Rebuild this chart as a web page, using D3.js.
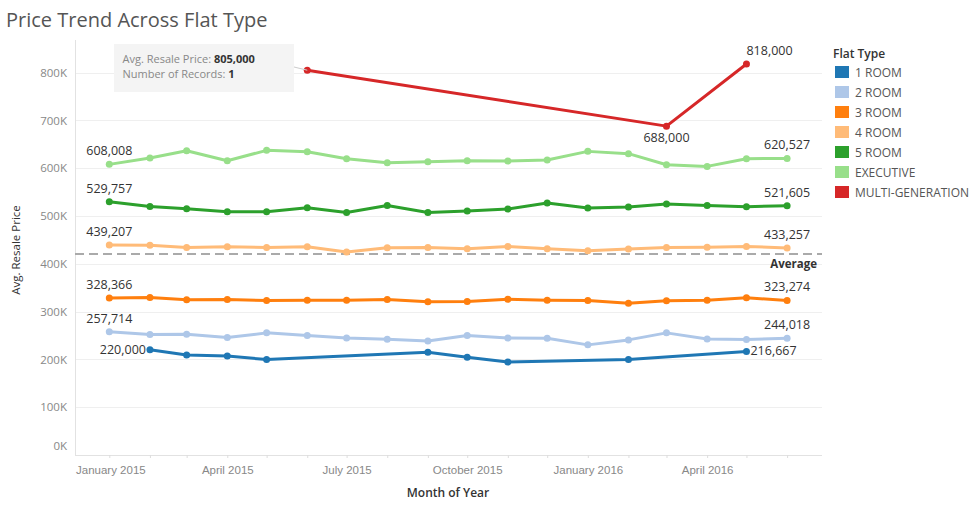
<!DOCTYPE html>
<html>
<head>
<meta charset="utf-8">
<script src="https://cdn.jsdelivr.net/npm/d3@7"></script>
<style>
  html, body { margin: 0; padding: 0; background: #fff; }
  svg { display: block; font-family: "Open Sans", "Noto Sans", sans-serif; }
</style>
</head>
<body>
<svg id="chart" width="973" height="510"></svg>
<script>
// ---------------- data ----------------
const months = ["2015-01","2015-02","2015-03","2015-04","2015-05","2015-06","2015-07","2015-08","2015-09",
                "2015-10","2015-11","2015-12","2016-01","2016-02","2016-03","2016-04","2016-05","2016-06"];
const flatTypes = ["1 ROOM","2 ROOM","3 ROOM","4 ROOM","5 ROOM","EXECUTIVE","MULTI-GENERATION"];
const oneRoom   = [null,220000,209400,207300,199600,null,null,null,215100,204600,194800,null,null,199600,null,null,216667,null];
const twoRoom   = [257714,251900,252600,245600,255500,249900,245000,242300,238700,249900,245000,244300,230400,240800,255500,242900,241500,244018];
const threeRoom = [328366,329400,324600,325300,323200,323900,323900,325300,320400,321000,326000,323900,323200,317700,322500,323900,328800,323274];
const fourRoom  = [439207,439000,434100,435600,434100,435600,424500,433500,434100,431400,436200,431400,427200,430800,434100,434800,436200,433257];
const fiveRoom  = [529757,520000,515200,508900,508900,517300,507500,522100,507500,510300,514500,527100,516600,518700,525000,522100,519400,521605];
const executive = [608008,621400,636600,615700,637300,634600,619900,611500,613600,615700,615100,617200,635200,630400,607300,603800,619900,620527];
const multiGen  = [null,null,null,null,null,805000,null,null,null,null,null,null,null,null,688000,null,818000,null];
const averageValue = 420300;
const yTicks = [0,100000,200000,300000,400000,500000,600000,700000,800000];
const xTickMonths = ["2015-01","2015-04","2015-07","2015-10","2016-01","2016-04"];
const tooltipValue = 805000;
const tooltipRecords = 1;

// ---------------- styles ----------------
const colors = ["#1f77b4","#aec7e8","#ff7f0e","#ffbb78","#2ca02c","#98df8a","#d62728"];
const seriesValues = [oneRoom, twoRoom, threeRoom, fourRoom, fiveRoom, executive, multiGen];
// label placement style per series: which end points are labelled and how
const labelStyle = [
  {first:"left", last:"right"},
  {first:"above", last:"above"},
  {first:"above", last:"above"},
  {first:"above", last:"above"},
  {first:"above", last:"above"},
  {first:"above", last:"above"},
  {skipFirst:true, labelIdx:[[14,"below"],[16,"aboveStart"]]}
];

const svg = d3.select("#chart");
const parse = d3.timeParse("%Y-%m");
const dates = months.map(parse);

const plot = {left:75, right:822, top:40, bottom:455};
const x = d3.scaleTime().domain([dates[0], dates[dates.length-1]]).range([109.3, 787.1]);
const y = d3.scaleLinear().domain([0, 800000]).range([455, 72.6]);
const fmt = d3.format(",");

// title
svg.append("text").attr("x", 6).attr("y", 27)
  .attr("font-size", 20).attr("fill", "#555").text("Price Trend Across Flat Type");

// gridlines
svg.append("g").selectAll("line").data(yTicks).join("line")
  .attr("x1", plot.left).attr("x2", plot.right)
  .attr("y1", d => Math.round(y(d)) + 0.5).attr("y2", d => Math.round(y(d)) + 0.5)
  .attr("stroke", d => d === 0 ? "#e2e2e2" : "#efefef").attr("stroke-width", 1);

// left axis line
svg.append("line").attr("x1", plot.left + 0.5).attr("x2", plot.left + 0.5)
  .attr("y1", plot.top).attr("y2", plot.bottom).attr("stroke", "#e2e2e2");

// y axis
const yAxis = d3.axisLeft(y).tickValues(yTicks).tickSize(0).tickPadding(8)
  .tickFormat(d => (d / 1000) + "K");
const gy = svg.append("g").attr("transform", `translate(${plot.left},0)`).call(yAxis);
gy.select(".domain").remove();
gy.selectAll("text").attr("font-size", 11.5).attr("fill", "#888")
  .attr("font-family", "'Open Sans', sans-serif");
gy.selectAll(".tick").filter(d => d === 0).select("text").attr("dy", "-0.45em");

svg.append("text").attr("transform", "translate(20,250) rotate(-90)")
  .attr("text-anchor", "middle").attr("font-size", 11.5).attr("fill", "#333")
  .text("Avg. Resale Price");

// x axis
const xAxis = d3.axisBottom(x).tickValues(dates).tickSize(3).tickPadding(8)
  .tickFormat(d => xTickMonths.includes(d3.timeFormat("%Y-%m")(d)) ? d3.timeFormat("%B %Y")(d) : "");
const gx = svg.append("g").attr("transform", `translate(0,${plot.bottom})`).call(xAxis);
gx.select(".domain").remove();
gx.selectAll("line").attr("stroke", "#ddd");
gx.selectAll("text").attr("font-size", 11.5).attr("fill", "#888");
gx.selectAll(".tick text").each(function() {
  const bb = this.getBBox();
  const t = d3.select(this.parentNode).attr("transform");
  const tx = +t.match(/translate\(([-\d.]+)/)[1];
  if (tx + bb.x < plot.left + 1) d3.select(this).attr("x", plot.left + 1 - (tx + bb.x));
});
svg.append("text").attr("x", 448).attr("y", 497).attr("text-anchor", "middle")
  .attr("font-size", 12).attr("font-weight", 600).attr("fill", "#333").text("Month of Year");

// average line
svg.append("line").attr("x1", plot.left).attr("x2", plot.right)
  .attr("y1", y(averageValue)).attr("y2", y(averageValue))
  .attr("stroke", "#aaa").attr("stroke-width", 2).attr("stroke-dasharray", "9,5");
svg.append("text").attr("x", 817).attr("y", y(averageValue) + 14).attr("text-anchor", "end")
  .attr("font-size", 11.5).attr("font-weight", 700).attr("fill", "#333").text("Average");

// series
const lineGen = d3.line().x(d => x(d.date)).y(d => y(d.value));
const labelsG = svg.append("g");
seriesValues.forEach((vals, si) => {
  const pts = vals.map((v, i) => ({date: dates[i], value: v})).filter(d => d.value != null);
  const g = svg.append("g");
  g.append("path").datum(pts).attr("d", lineGen).attr("fill", "none")
    .attr("stroke", colors[si]).attr("stroke-width", 3).attr("stroke-linejoin", "round");
  g.selectAll("circle").data(pts).join("circle")
    .attr("cx", d => x(d.date)).attr("cy", d => y(d.value)).attr("r", 3.5)
    .attr("fill", colors[si]);

  const st = labelStyle[si];
  const lab = [];
  if (st.labelIdx) {
    st.labelIdx.forEach(([idx, pos]) => lab.push({d: {date: dates[idx], value: vals[idx]}, pos}));
  } else {
    lab.push({d: pts[0], pos: st.first});
    lab.push({d: pts[pts.length - 1], pos: st.last});
  }
  lab.forEach(({d, pos}) => {
    const px = x(d.date), py = y(d.value);
    const t = labelsG.append("text").attr("font-size", 12.5).attr("fill", "#333").text(fmt(d.value));
    if (pos === "left") {
      t.attr("x", px - 4).attr("y", py + 4).attr("text-anchor", "end");
    } else if (pos === "right") {
      t.attr("x", px + 4).attr("y", py + 4).attr("text-anchor", "start");
    } else if (pos === "below") {
      t.attr("x", px).attr("y", py + 16).attr("text-anchor", "middle");
    } else if (pos === "aboveStart") {
      t.attr("x", px).attr("y", py - 9).attr("text-anchor", "start");
    } else {
      t.attr("text-anchor", "middle").attr("y", py - 9);
      const w = t.node().getComputedTextLength();
      const cx = Math.max(plot.left + w / 2, Math.min(plot.right - w / 2, px));
      t.attr("x", cx);
    }
  });
});

// tooltip
const tipIdx = multiGen.indexOf(tooltipValue);
const tipX = x(dates[tipIdx]), tipY = y(tooltipValue);
svg.append("line").attr("x1", 294).attr("y1", 67).attr("x2", tipX).attr("y2", tipY)
  .attr("stroke", "#ccc").attr("stroke-width", 1);
svg.append("rect").attr("x", 114).attr("y", 44).attr("width", 180).attr("height", 48)
  .attr("fill", "#f4f4f4");
const t1 = svg.append("text").attr("x", 122.5).attr("y", 63).attr("font-size", 11);
t1.append("tspan").attr("fill", "#888").text("Avg. Resale Price: ");
t1.append("tspan").attr("fill", "#333").attr("font-weight", 700).text(fmt(tooltipValue));
const t2 = svg.append("text").attr("x", 122.5).attr("y", 78).attr("font-size", 11);
t2.append("tspan").attr("fill", "#888").text("Number of Records: ");
t2.append("tspan").attr("fill", "#333").attr("font-weight", 700).text(tooltipRecords);

// legend
const lg = svg.append("g").attr("transform", "translate(833,0)");
lg.append("text").attr("x", 0).attr("y", 58).attr("font-size", 12).attr("font-weight", 600)
  .attr("fill", "#333").text("Flat Type");
const items = lg.selectAll("g.item").data(flatTypes).join("g")
  .attr("transform", (d, i) => `translate(0,${66 + i * 20})`);
items.append("rect").attr("x", 2).attr("y", 0).attr("width", 14).attr("height", 12)
  .attr("fill", (d, i) => colors[i]);
items.append("text").attr("x", 22).attr("y", 10.5).attr("font-size", 12)
  .attr("fill", "#555").text(d => d);
</script>
</body>
</html>
